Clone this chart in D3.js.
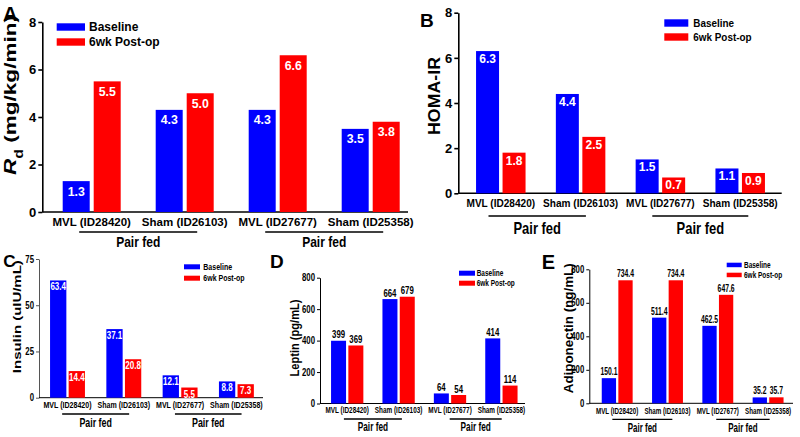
<!DOCTYPE html>
<html><head><meta charset="utf-8">
<script src="https://cdn.jsdelivr.net/npm/d3@7"></script>
<style>
body{margin:0;background:#fff}
svg{display:block}
text{font-family:"Liberation Sans",Arial,Helvetica,sans-serif;font-weight:bold}
</style>
</head><body>
<svg id="chart" width="800" height="437"></svg>
<script>
// ---------- DATA ----------
const categories = ["MVL (ID28420)", "Sham (ID26103)", "MVL (ID27677)", "Sham (ID25358)"];
const seriesNames = ["Baseline", "6wk Post-op"];
const groupLabel = "Pair fed";

const rdBaseline = [1.3, 4.3, 4.3, 3.5];
const rdPost = [5.5, 5.0, 6.6, 3.8];
const homaBaseline = [6.3, 4.4, 1.5, 1.1];
const homaPost = [1.8, 2.5, 0.7, 0.9];
const insulinBaseline = [63.4, 37.1, 12.1, 8.8];
const insulinPost = [14.4, 20.8, 5.5, 7.3];
const leptinBaseline = [399, 664, 64, 414];
const leptinPost = [369, 679, 54, 114];
const adipoBaseline = [150.1, 511.4, 462.5, 35.2];
const adipoPost = [734.4, 734.4, 647.6, 35.7];

const ticksA = [0, 2, 4, 6, 8];
const ticksB = [0, 2, 4, 6, 8];
const ticksC = [0, 25, 50, 75];
const ticksD = [0, 200, 400, 600, 800];
const ticksE = [0, 200, 400, 600, 800];

const BLUE = "#0000ff", RED = "#ff0000";
const svg = d3.select("#chart");

function txt(parent, o) {
  const t = parent.append("text")
    .attr("text-anchor", o.anchor || "start")
    .attr("font-size", o.size)
    .attr("fill", o.fill || "#000");
  if (o.dy) t.attr("dy", o.dy);
  if (o.parts) {
    o.parts.forEach(p => {
      const s = t.append("tspan").text(p.t);
      if (p.italic) s.attr("font-style", "italic");
      if (p.sub) s.attr("font-size", o.size * 0.7).attr("baseline-shift", "sub");
    });
  } else t.text(o.text);
  let sx = o.scale || 1;
  if (o.width) { const w = t.node().getComputedTextLength(); if (w > 0) sx = o.width / w; }
  t.attr("transform", `translate(${o.x},${o.y}) rotate(${o.rot || 0}) scale(${sx},1)`);
  return t;
}

function panel(cfg) {
  const g = svg.append("g");
  const y = d3.scaleLinear().domain([0, cfg.max]).range([cfg.y0, cfg.yTop]);
  const x = d3.scaleBand().domain(categories)
    .range([cfg.c1 - cfg.step / 2, cfg.c1 + 3.5 * cfg.step]);
  const x1 = d3.scaleBand().domain(seriesNames)
    .range([-(cfg.bw + cfg.gap / 2), cfg.bw + cfg.gap / 2])
    .paddingInner(cfg.gap / (cfg.bw + cfg.gap));
  const cx = c => x(c) + x.bandwidth() / 2;

  // y axis
  const ax = g.append("g").attr("transform", `translate(${cfg.yx},0)`)
    .call(d3.axisLeft(y).tickValues(cfg.ticks).tickSize(cfg.tick).tickSizeOuter(0).tickFormat(""));
  ax.selectAll("path,line").attr("stroke", cfg.axisColor || "#000").attr("stroke-width", cfg.axisW);
  cfg.ticks.forEach(v => txt(g, {x: cfg.yx - cfg.tick - 2, y: y(v), dy: "0.36em", anchor: "end",
    text: String(v), size: cfg.tickSize, scale: cfg.tickScale}));
  // x axis line
  g.append("line").attr("x1", cfg.yx).attr("x2", cfg.xEnd).attr("y1", y(0)).attr("y2", y(0))
    .attr("stroke", "#000").attr("stroke-width", cfg.axisW);

  // bars
  const series = [cfg.base, cfg.post];
  const colors = [BLUE, RED];
  categories.forEach((c, i) => {
    seriesNames.forEach((s, j) => {
      const v = series[j][i];
      const bx = cx(c) + x1(s);
      g.append("rect").attr("x", bx).attr("y", y(v)).attr("width", x1.bandwidth())
        .attr("height", y(0) - y(v)).attr("fill", colors[j]);
      const lx = bx + x1.bandwidth() / 2;
      if (cfg.inside) {
        txt(g, {x: lx, y: y(v) + cfg.valOff, anchor: "middle", text: cfg.fmt(v), size: cfg.valSize,
          scale: cfg.valScale, fill: "#fff"});
      } else {
        txt(g, {x: lx, y: y(v) - cfg.valOff, anchor: "middle", text: cfg.fmt(v), size: cfg.valSize,
          scale: cfg.valScale, fill: "#000"});
      }
    });
    txt(g, {x: cx(c), y: cfg.catY, anchor: "middle", text: c, size: cfg.catSize, scale: cfg.catScale});
  });

  // group lines
  [[0, 1], [2, 3]].forEach(([a, b], k) => {
    const mid = (cx(categories[a]) + cx(categories[b])) / 2 + (cfg.pairShift ? cfg.pairShift[k] : 0);
    g.append("line").attr("x1", mid - cfg.pairHalf[k]).attr("x2", mid + cfg.pairHalf[k])
      .attr("y1", cfg.pairY).attr("y2", cfg.pairY).attr("stroke", "#000").attr("stroke-width", 1.3);
    txt(g, {x: mid, y: cfg.pairTextY, anchor: "middle", text: groupLabel, size: cfg.pairSize, scale: cfg.pairScale});
  });

  // legend
  seriesNames.forEach((s, j) => {
    const ly = cfg.leg.y[j];
    g.append("rect").attr("x", cfg.leg.x).attr("y", ly).attr("width", cfg.leg.w).attr("height", cfg.leg.h)
      .attr("fill", colors[j]);
    txt(g, {x: cfg.leg.tx, y: ly + cfg.leg.h / 2, dy: "0.36em", text: s, size: cfg.leg.size, scale: cfg.leg.scale});
  });

  // panel letter
  txt(g, {x: cfg.letter.x, y: cfg.letter.y, text: cfg.letter.t, size: cfg.letter.size});
  // y label
  txt(g, Object.assign({anchor: "middle", rot: -90}, cfg.ylab));
}

const f1 = d3.format(".1f");
const f0 = d3.format("d");

panel({
  base: rdBaseline, post: rdPost, max: 8, ticks: ticksA,
  yx: 42.3, xEnd: 408, y0: 212, yTop: 22, tick: 4, axisW: 1.6, tickSize: 13, tickScale: 1,
  c1: 91.7, step: 93, bw: 27, gap: 4,
  inside: true, valOff: 14.5, valSize: 13, valScale: 0.95, fmt: f1,
  catY: 226, catSize: 11.5, catScale: 1,
  pairY: 232, pairHalf: [59, 59], pairTextY: 247, pairSize: 14, pairScale: 0.86,
  leg: {x: 56.7, w: 28.3, h: 7.4, y: [23.3, 38.3], tx: 89, size: 12, scale: 1},
  letter: {x: 3, y: 20.7, t: "A", size: 20},
  ylab: {x: 16, y: 95, size: 17, width: 160, parts: [{t: "R", italic: true}, {t: "d", sub: true}, {t: " (mg/kg/min)"}]}
});

panel({
  base: homaBaseline, post: homaPost, max: 8, ticks: ticksB,
  yx: 458.3, xEnd: 781.7, y0: 193.3, yTop: 12.7, tick: 4, axisW: 1.6, tickSize: 13, tickScale: 1,
  c1: 500.8, step: 79.8, bw: 23, gap: 3.5,
  inside: true, valOff: 12, valSize: 12, valScale: 1, fmt: f1,
  catY: 207.3, catSize: 11.2, catScale: 0.9,
  pairY: 216, pairHalf: [48.7, 48], pairShift: [-3.5, 0], pairTextY: 234, pairSize: 16, pairScale: 0.81,
  leg: {x: 664.3, w: 24, h: 7.4, y: [19.3, 33.3], tx: 693.3, size: 11, scale: 0.9},
  letter: {x: 420, y: 26.7, t: "B", size: 19},
  ylab: {x: 440, y: 96, size: 17, width: 78, text: "HOMA-IR"}
});

panel({
  base: insulinBaseline, post: insulinPost, max: 75, ticks: ticksC,
  yx: 39, xEnd: 263, y0: 397.7, yTop: 259, tick: 3, axisW: 1, axisColor: "#555", tickSize: 10, tickScale: 0.78,
  c1: 67.5, step: 56.3, bw: 16.3, gap: 2.3,
  inside: true, valOff: 10, valSize: 11.5, valScale: 0.7, fmt: f1,
  catY: 407.7, catSize: 9.3, catScale: 0.76,
  pairY: 414, pairHalf: [33.5, 33.3], pairTextY: 427, pairSize: 12.5, pairScale: 0.71,
  leg: {x: 184, w: 16, h: 5, y: [264.3, 275.7], tx: 203.3, size: 9, scale: 0.78},
  letter: {x: 3.3, y: 266.7, t: "C", size: 17},
  ylab: {x: 20.7, y: 316.7, size: 11.5, width: 113, text: "Insulin (uIU/mL)"}
});

panel({
  base: leptinBaseline, post: leptinPost, max: 800, ticks: ticksD,
  yx: 320, xEnd: 525, y0: 403.5, yTop: 277.7, tick: 3, axisW: 1, tickSize: 10, tickScale: 0.78,
  c1: 347.2, step: 51.4, bw: 15, gap: 2.3,
  inside: false, valOff: 2.5, valSize: 10, valScale: 0.78, fmt: f0,
  catY: 413.3, catSize: 9, catScale: 0.71,
  pairY: 419, pairHalf: [29, 26], pairTextY: 430.7, pairSize: 12.5, pairScale: 0.66,
  leg: {x: 459, w: 16, h: 5, y: [270.7, 280.7], tx: 476.7, size: 9, scale: 0.72},
  letter: {x: 270, y: 268.3, t: "D", size: 19},
  ylab: {x: 299, y: 338, size: 12, width: 77, text: "Leptin (pg/mL)"}
});

panel({
  base: adipoBaseline, post: adipoPost, max: 800, ticks: ticksE,
  yx: 589.3, xEnd: 793, y0: 403.3, yTop: 269.3, tick: 3, axisW: 1, tickSize: 10, tickScale: 0.78,
  c1: 617.2, step: 50.3, bw: 14.3, gap: 2.3,
  inside: false, valOff: 3, valSize: 10, valScale: 0.68, fmt: f1,
  catY: 414, catSize: 9, catScale: 0.69,
  pairY: 419.3, pairHalf: [30, 26.7], pairTextY: 431.7, pairSize: 12.5, pairScale: 0.64,
  leg: {x: 726.7, w: 15, h: 4.5, y: [262.7, 272.7], tx: 744, size: 9, scale: 0.72},
  letter: {x: 541.7, y: 269.3, t: "E", size: 20},
  ylab: {x: 573, y: 328.3, size: 13, width: 130, text: "Adiponectin (ng/mL)"}
});
</script>
</body></html>
